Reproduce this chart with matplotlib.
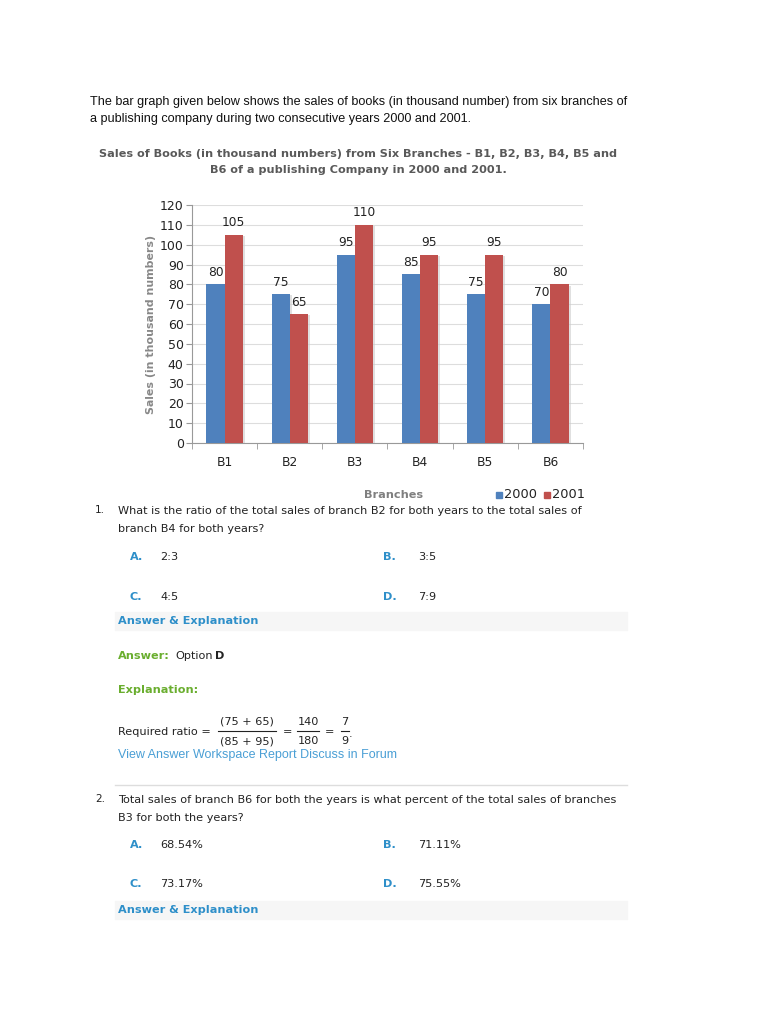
import numpy as np
import matplotlib.pyplot as plt
from matplotlib.lines import Line2D
from matplotlib.patches import Rectangle

branches = ["B1", "B2", "B3", "B4", "B5", "B6"]
sales_2000 = [80, 75, 95, 85, 75, 70]
sales_2001 = [105, 65, 110, 95, 95, 80]
yticks = list(range(0, 121, 10))

W, H = 768, 1024
fig = plt.figure(figsize=(W / 100, H / 100), dpi=100)
fig.patch.set_facecolor("white")


def px(x, y):
    return x / W, 1 - y / H


def txt(x, y, s, **kw):
    kw.setdefault("va", "center")
    kw.setdefault("family", "DejaVu Sans")
    kw.setdefault("size", 8.1)
    kw.setdefault("color", "#222222")
    fig.text(*px(x, y), s, **kw)


def hline(x0, x1, y, color="#dddddd", lw=1.0):
    fig.add_artist(Line2D([x0 / W, x1 / W], [1 - y / H, 1 - y / H],
                          color=color, lw=lw, transform=fig.transFigure))


blue = "#4F81BD"
red = "#C0504D"
qblue = "#2E8FC9"
green = "#6AAE2F"

# intro
txt(90, 102, "The bar graph given below shows the sales of books (in thousand number) from six branches of",
    family="Liberation Sans", size=9.1, color="#111111")
txt(90, 119, "a publishing company during two consecutive years 2000 and 2001.",
    family="Liberation Sans", size=9.1, color="#111111")

# chart title
txt(358, 154, "Sales of Books (in thousand numbers) from Six Branches - B1, B2, B3, B4, B5 and",
    ha="center", weight="bold", size=8.1, color="#595959")
txt(358, 170, "B6 of a publishing Company in 2000 and 2001.",
    ha="center", weight="bold", size=8.1, color="#595959")

# chart
ax = fig.add_axes([192 / W, 1 - 443 / H, (583 - 192) / W, (443 - 205) / H])
x = np.arange(len(branches))
bw = 0.28
b1 = ax.bar(x - bw / 2, sales_2000, bw, color=blue, zorder=3)
b2 = ax.bar(x + bw / 2, sales_2001, bw, color=red, zorder=3)
for bars in (b1, b2):
    for r in bars:
        ax.add_patch(Rectangle((r.get_x() + 0.03, 0), r.get_width(), r.get_height() - 0.6,
                               color="#cccccc", alpha=0.6, zorder=2, lw=0))
    for r in bars:
        ax.annotate(str(int(r.get_height())), (r.get_x() + r.get_width() / 2, r.get_height()),
                    xytext=(0, 4), textcoords="offset points", ha="center", va="bottom",
                    size=8.8, color="#222222", family="DejaVu Sans")
ax.set_xlim(-0.5, 5.5)
ax.set_ylim(0, 120)
ax.set_yticks(yticks)
ax.set_yticklabels([str(v) for v in yticks], size=9, color="#222222")
ax.set_xticks(x)
ax.set_xticklabels(branches, size=8.8, color="#222222")
ax.set_xticks(np.arange(-0.5, 6, 1), minor=True)
ax.tick_params(axis="x", which="major", length=0, pad=9)
ax.tick_params(axis="x", which="minor", length=4, color="#999999")
ax.tick_params(axis="y", length=4, color="#999999", pad=2)
ax.grid(axis="y", color="#dddddd", lw=0.8, zorder=0)
for s in ("top", "right"):
    ax.spines[s].set_visible(False)
for s in ("left", "bottom"):
    ax.spines[s].set_color("#999999")
ax.set_ylabel("Sales (in thousand numbers)", weight="bold", color="#888888", size=7.9, labelpad=3)

txt(394, 495, "Branches", ha="center", weight="bold", size=8.1, color="#7f7f7f")
fig.add_artist(Rectangle(px(496, 498), 6 / W, 6 / H, color=blue, transform=fig.transFigure))
txt(504, 494, "2000", size=9.3)
fig.add_artist(Rectangle(px(544, 498), 6 / W, 6 / H, color=red, transform=fig.transFigure))
txt(552, 494, "2001", size=9.3)

# question 1
txt(95, 510, "1.", size=7.6)
txt(118, 511, "What is the ratio of the total sales of branch B2 for both years to the total sales of")
txt(118, 529, "branch B4 for both years?")
txt(130, 557, "A.", color=qblue, weight="bold")
txt(160, 557, "2:3")
txt(383, 557, "B.", color=qblue, weight="bold")
txt(418, 557, "3:5")
txt(130, 597, "C.", color=qblue, weight="bold")
txt(160, 597, "4:5")
txt(383, 597, "D.", color=qblue, weight="bold")
txt(418, 597, "7:9")
fig.add_artist(Rectangle(px(115, 630), (627 - 115) / W, 18 / H, color="#f6f6f6",
                         transform=fig.transFigure, zorder=0))
txt(118, 621, "Answer & Explanation", color=qblue, weight="bold")

txt(118, 656, "Answer:", color=green, weight="bold")
txt(175, 656, "Option")
txt(215, 656, "D", weight="bold")
txt(118, 690, "Explanation:", color=green, weight="bold")

txt(118, 732, "Required ratio =")
txt(247, 722, "(75 + 65)", ha="center")
hline(218, 276, 731, color="#222222", lw=0.8)
txt(247, 741, "(85 + 95)", ha="center")
txt(288, 732, "=", ha="center")
txt(308, 722, "140", ha="center")
hline(297, 319, 731, color="#222222", lw=0.8)
txt(308, 741, "180", ha="center")
txt(330, 732, "=", ha="center")
txt(345, 722, "7", ha="center")
hline(341, 349, 731, color="#222222", lw=0.8)
txt(345, 741, "9", ha="center")
txt(349, 734, ".")
txt(118, 755, "View Answer Workspace Report Discuss in Forum", family="Liberation Sans",
    size=9.0, color="#4A9FD5")
hline(115, 627, 785)

# question 2
txt(95, 799, "2.", size=7.6)
txt(118, 800, "Total sales of branch B6 for both the years is what percent of the total sales of branches")
txt(118, 818, "B3 for both the years?")
txt(130, 845, "A.", color=qblue, weight="bold")
txt(160, 845, "68.54%")
txt(383, 845, "B.", color=qblue, weight="bold")
txt(418, 845, "71.11%")
txt(130, 884, "C.", color=qblue, weight="bold")
txt(160, 884, "73.17%")
txt(383, 884, "D.", color=qblue, weight="bold")
txt(418, 884, "75.55%")
fig.add_artist(Rectangle(px(115, 919), (627 - 115) / W, 18 / H, color="#f6f6f6",
                         transform=fig.transFigure, zorder=0))
txt(118, 910, "Answer & Explanation", color=qblue, weight="bold")

fig.savefig("out.png", dpi=100)
